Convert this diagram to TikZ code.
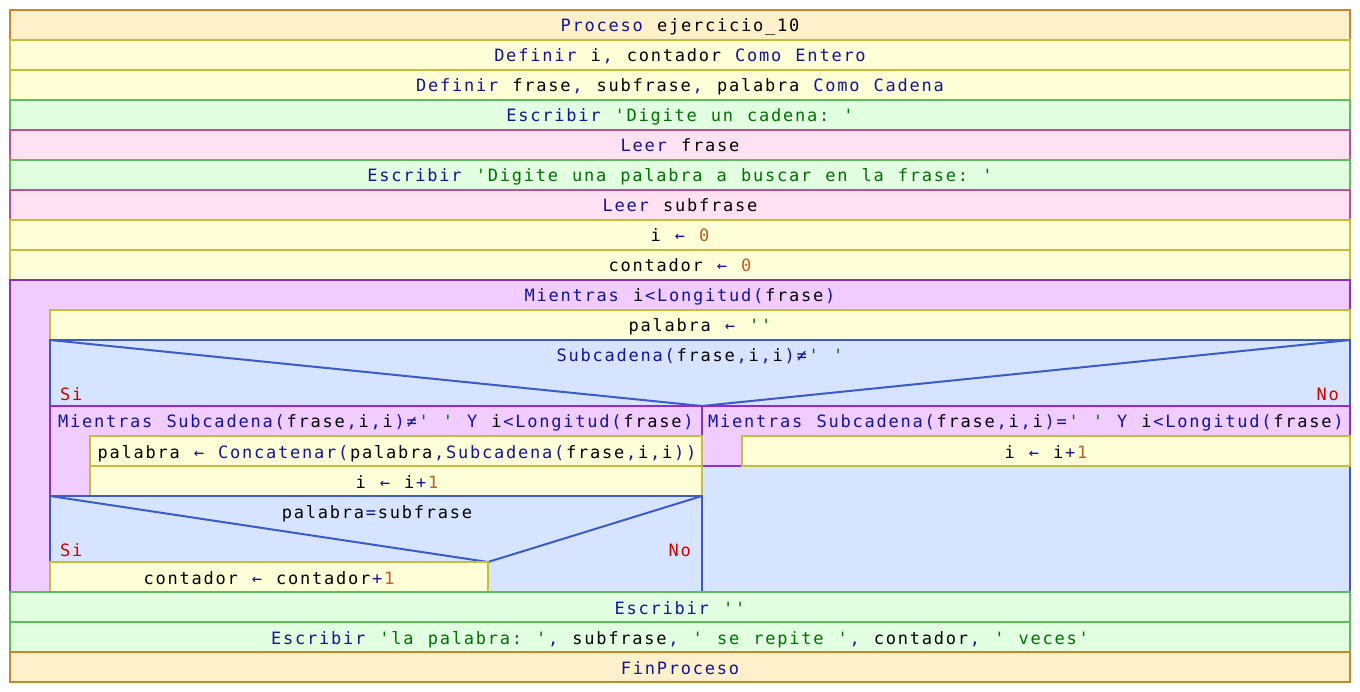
\documentclass[tikz,border=0pt]{standalone}
\usepackage{fontspec}
\setmonofont{DejaVu Sans Mono}[LetterSpace=10.39,WordSpace=1.1725]
\definecolor{procF}{RGB}{255,240,204}
\definecolor{procD}{RGB}{200,134,42}
\definecolor{asgF}{RGB}{255,255,215}
\definecolor{asgD}{RGB}{196,190,60}
\definecolor{escF}{RGB}{226,255,226}
\definecolor{escD}{RGB}{92,191,92}
\definecolor{leeF}{RGB}{255,226,242}
\definecolor{leeD}{RGB}{192,80,140}
\definecolor{whF}{RGB}{240,204,255}
\definecolor{whD}{RGB}{140,47,200}
\definecolor{ifF}{RGB}{215,228,255}
\definecolor{ifD}{RGB}{60,90,200}
\definecolor{kwC}{RGB}{20,20,150}
\definecolor{strC}{RGB}{0,112,0}
\definecolor{numC}{RGB}{192,90,40}
\definecolor{siC}{RGB}{208,0,0}
\newcommand\kwc[1]{\textcolor{kwC}{#1}}
\newcommand\strc[1]{\textcolor{strC}{#1}}
\newcommand\numc[1]{\textcolor{numC}{#1}}
\newcommand\kk{\kern1.766pt\relax}
\begin{document}
\begin{tikzpicture}[x=1pt,y=-1pt,
  box/.style={line width=2pt},
  proc/.style={box,fill=procF,draw=procD},
  asg/.style={box,fill=asgF,draw=asgD},
  esc/.style={box,fill=escF,draw=escD},
  lee/.style={box,fill=leeF,draw=leeD},
  wh/.style={box,fill=whF,draw=whD},
  ifb/.style={box,fill=ifF,draw=ifD},
  ifl/.style={line width=2pt,draw=ifD},
  txt/.style={inner sep=0pt,font=\ttfamily\fontsize{17}{17}\selectfont,anchor=base},
  txl/.style={txt,anchor=base west},
  sino/.style={txt,text=siC}]
\useasboundingbox (0,0) rectangle (1360,692);
% header rows
\draw[proc] (10,10) rectangle (1350,40);
\node[txt] (t1) at (680,32) {\kwc{Proceso} ejercicio\_10};
\draw[asg] (10,40) rectangle (1350,70);
\node[txt] (t2) at (680,62) {\kwc{Definir} i\kk\kwc{,} contador \kwc{Como Entero}};
\draw[asg] (10,70) rectangle (1350,100);
\node[txt] (t3) at (680,92) {\kwc{Definir} frase\kk\kwc{,} subfrase\kk\kwc{,} palabra \kwc{Como Cadena}};
\draw[esc] (10,100) rectangle (1350,130);
\node[txt] (t4) at (680,122) {\kwc{Escribir} \strc{'Digite un cadena: '}};
\draw[lee] (10,130) rectangle (1350,160);
\node[txt] (t5) at (680,152) {\kwc{Leer} frase};
\draw[esc] (10,160) rectangle (1350,190);
\node[txt] (t6) at (680,182) {\kwc{Escribir} \strc{'Digite una palabra a buscar en la frase: '}};
\draw[lee] (10,190) rectangle (1350,220);
\node[txt] (t7) at (680,212) {\kwc{Leer} subfrase};
\draw[asg] (10,220) rectangle (1350,250);
\node[txt] (t8) at (680,242) {i \kwc{←} \numc{0}};
\draw[asg] (10,250) rectangle (1350,280);
\node[txt] (t9) at (680,272) {contador \kwc{←} \numc{0}};
% outer while
\draw[wh] (10,280) rectangle (1350,592);
\node[txt] (w1) at (680,302) {\kwc{Mientras} i\kk\kwc{<Longitud(}\kk frase\kk\kwc{)}};
\draw[asg] (50,310) rectangle (1350,340);
\node[txt] (a1) at (700,332) {palabra \kwc{←} \strc{''}};
% outer if
\draw[ifb] (50,340) rectangle (1350,592);
\draw[ifl] (50,340) -- (702,406) -- (1350,340);
\node[txt] (c1) at (700,362) {\kwc{Subcadena(}\kk frase\kk\kwc{,}\kk i\kk\kwc{,}\kk i\kk\kwc{)≠}\kk\strc{' '}};
\node[sino,anchor=base west] (si1) at (60,400) {Si};
\node[sino,anchor=base east] (no1) at (1339,400) {No};
% right branch
\draw[wh] (702,406) rectangle (1350,466);
\node[txl] (w3) at (708,428) {\kwc{Mientras Subcadena(}\kk frase\kk\kwc{,}\kk i\kk\kwc{,}\kk i\kk\kwc{)=}\kk\strc{' '} \kwc{Y} i\kk\kwc{<Longitud(}\kk frase\kk\kwc{)}};
\draw[asg] (742,436) rectangle (1350,466);
\node[txt] (a5) at (1046,458) {i \kwc{←} i\kk\kwc{+}\kk\numc{1}};
% left branch
\draw[wh] (50,406) rectangle (702,496);
\node[txl] (w2) at (58,428) {\kwc{Mientras Subcadena(}\kk frase\kk\kwc{,}\kk i\kk\kwc{,}\kk i\kk\kwc{)≠}\kk\strc{' '} \kwc{Y} i\kk\kwc{<Longitud(}\kk frase\kk\kwc{)}};
\draw[asg] (90,436) rectangle (702,466);
\node[txt] (a2) at (397,458) {palabra \kwc{←} \kwc{Concatenar(}\kk palabra\kk\kwc{,Subcadena(}\kk frase\kk\kwc{,}\kk i\kk\kwc{,}\kk i\kk\kwc{))}};
\draw[asg] (90,466) rectangle (702,496);
\node[txt] (a3) at (397,488) {i \kwc{←} i\kk\kwc{+}\kk\numc{1}};
% inner if
\draw[ifb] (50,496) rectangle (702,592);
\draw[ifl] (50,496) -- (488,562) -- (702,496);
\node[txt] (c2) at (377,518) {palabra\kk\kwc{=}\kk subfrase};
\node[sino,anchor=base west] (si2) at (60,556) {Si};
\node[sino,anchor=base east] (no2) at (691,556) {No};
\draw[asg] (50,562) rectangle (488,592);
\node[txt] (a4) at (269,584) {contador \kwc{←} contador\kk\kwc{+}\kk\numc{1}};
% trailing rows
\draw[esc] (10,592) rectangle (1350,622);
\node[txt] (t10) at (680,614) {\kwc{Escribir} \strc{''}};
\draw[esc] (10,622) rectangle (1350,652);
\node[txt] (t11) at (680,644) {\kwc{Escribir} \strc{'la palabra: '}\kk\kwc{,} subfrase\kk\kwc{,} \strc{' se repite '}\kk\kwc{,} contador\kk\kwc{,} \strc{' veces'}};
\draw[proc] (10,652) rectangle (1350,682);
\node[txt] (t12) at (680,674) {\kwc{FinProceso}};
\end{tikzpicture}
\end{document}
